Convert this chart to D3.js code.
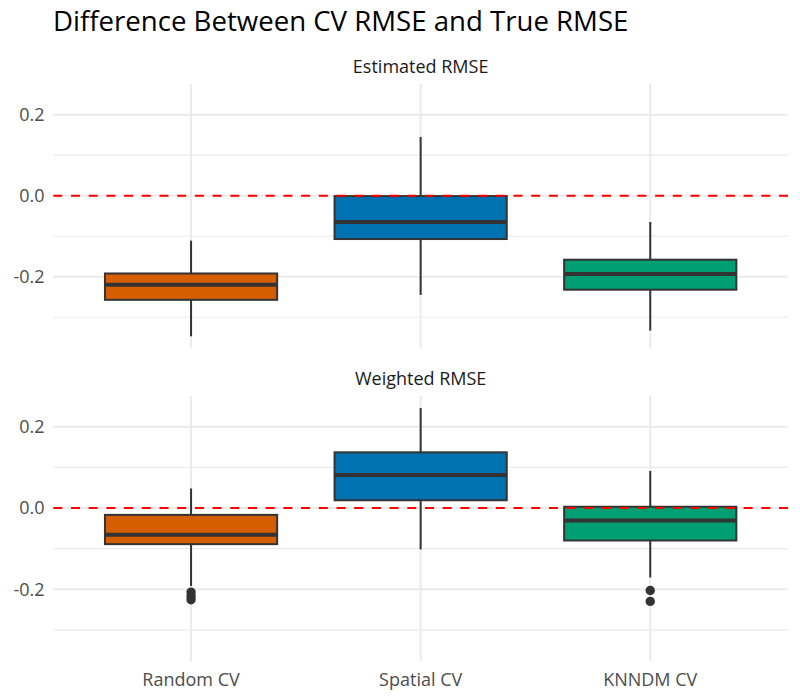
<!DOCTYPE html>
<html>
<head>
<meta charset="utf-8">
<script src="https://cdn.jsdelivr.net/npm/d3@7"></script>
<style>
  html, body { margin: 0; padding: 0; background: #fff; }
  svg { display: block; }
  text { font-family: "Open Sans", "Noto Sans", sans-serif; }
</style>
</head>
<body>
<svg id="chart" width="800" height="700"></svg>
<script>
// ---------- data ----------
const categories = ["Random CV", "Spatial CV", "KNNDM CV"];
const panels = ["Estimated RMSE", "Weighted RMSE"];
const colors = ["#D55E00", "#0072B2", "#009E73"];
const yTicks = [-0.2, 0.0, 0.2];
const yMinorTicks = [-0.3, -0.1, 0.1];

// boxplot stats per panel, ordered as categories: [lowerWhisker, q1, median, q3, upperWhisker]
const estimatedStats = [
  [-0.347, -0.257, -0.220, -0.192, -0.111],
  [-0.245, -0.107, -0.065, -0.001, 0.145],
  [-0.333, -0.232, -0.193, -0.158, -0.065]
];
const weightedStats = [
  [-0.192, -0.089, -0.066, -0.017, 0.048],
  [-0.102, 0.019, 0.081, 0.137, 0.246],
  [-0.171, -0.080, -0.031, 0.003, 0.091]
];
const estimatedOutliers = [[], [], []];
const weightedOutliers = [[-0.207, -0.217, -0.226], [], [-0.203, -0.230]];

const panelStats = [estimatedStats, weightedStats];
const panelOutliers = [estimatedOutliers, weightedOutliers];

// ---------- layout ----------
const svg = d3.select("#chart");
const left = 53.3, right = 788;
const panelBoxes = [
  { top: 84, bottom: 348.3 },
  { top: 396, bottom: 661 }
];

// y domain: data range with 5% expansion (shared across facets)
const allVals = [];
panelStats.forEach(p => p.forEach(s => allVals.push(...s)));
panelOutliers.forEach(p => p.forEach(o => allVals.push(...o)));
const [dmin, dmax] = d3.extent(allVals);
const span = dmax - dmin;
const yDomain = [dmin - 0.05 * span, dmax + 0.05 * span];

// x: discrete scale with 0.6 expansion each side
const xLin = d3.scaleLinear().domain([0.4, categories.length + 0.6]).range([left, right]);
const xPos = c => xLin(categories.indexOf(c) + 1);
const boxWidth = xLin(1.75) - xLin(1); // 0.75 units

// title
svg.append("text")
  .attr("x", 53)
  .attr("y", 31)
  .attr("font-size", 27.6)
  .attr("fill", "#000")
  .text("Difference Between CV RMSE and True RMSE");

panels.forEach((pname, pi) => {
  const pb = panelBoxes[pi];
  const y = d3.scaleLinear().domain(yDomain).range([pb.bottom, pb.top]);
  const g = svg.append("g");

  // minor grid
  g.selectAll(".minor").data(yMinorTicks).enter().append("line")
    .attr("x1", left).attr("x2", right)
    .attr("y1", d => y(d)).attr("y2", d => y(d))
    .attr("stroke", "#EBEBEB").attr("stroke-width", 1.1);
  // major grid
  g.selectAll(".major").data(yTicks).enter().append("line")
    .attr("x1", left).attr("x2", right)
    .attr("y1", d => y(d)).attr("y2", d => y(d))
    .attr("stroke", "#EBEBEB").attr("stroke-width", 2);
  g.selectAll(".vgrid").data(categories).enter().append("line")
    .attr("x1", d => xPos(d)).attr("x2", d => xPos(d))
    .attr("y1", pb.top).attr("y2", pb.bottom)
    .attr("stroke", "#EBEBEB").attr("stroke-width", 2);

  // y tick labels
  g.selectAll(".ylab").data(yTicks).enter().append("text")
    .attr("x", 44.5)
    .attr("y", d => y(d))
    .attr("dy", "0.36em")
    .attr("text-anchor", "end")
    .attr("font-size", 18)
    .attr("fill", "#4D4D4D")
    .text(d => d3.format(".1f")(d).replace("−", "-"));

  // strip label
  svg.append("text")
    .attr("x", (left + right) / 2)
    .attr("y", pb.top - 11)
    .attr("text-anchor", "middle")
    .attr("font-size", 18)
    .attr("fill", "#1A1A1A")
    .text(pname);

  // boxes
  const stats = panelStats[pi];
  const outs = panelOutliers[pi];
  categories.forEach((c, ci) => {
    const s = stats[ci];
    const cx = xPos(c);
    const bg = g.append("g");
    // whiskers
    bg.append("line")
      .attr("x1", cx).attr("x2", cx)
      .attr("y1", y(s[4])).attr("y2", y(s[3]))
      .attr("stroke", "#333333").attr("stroke-width", 2);
    bg.append("line")
      .attr("x1", cx).attr("x2", cx)
      .attr("y1", y(s[1])).attr("y2", y(s[0]))
      .attr("stroke", "#333333").attr("stroke-width", 2);
    // box
    bg.append("rect")
      .attr("x", cx - boxWidth / 2)
      .attr("width", boxWidth)
      .attr("y", y(s[3]))
      .attr("height", y(s[1]) - y(s[3]))
      .attr("fill", colors[ci])
      .attr("stroke", "#333333")
      .attr("stroke-width", 2);
    // median
    bg.append("line")
      .attr("x1", cx - boxWidth / 2).attr("x2", cx + boxWidth / 2)
      .attr("y1", y(s[2])).attr("y2", y(s[2]))
      .attr("stroke", "#333333").attr("stroke-width", 4);
    // outliers
    bg.selectAll("circle").data(outs[ci]).enter().append("circle")
      .attr("cx", cx).attr("cy", d => y(d)).attr("r", 4.7)
      .attr("fill", "#333333");
  });

  // zero reference line
  g.append("line")
    .attr("x1", left).attr("x2", right)
    .attr("y1", y(0)).attr("y2", y(0))
    .attr("stroke", "#FF0000")
    .attr("stroke-width", 2)
    .attr("stroke-dasharray", "9,8.7");
});

// x tick labels (bottom panel only)
svg.selectAll(".xlab").data(categories).enter().append("text")
  .attr("x", d => xPos(d))
  .attr("y", 686)
  .attr("text-anchor", "middle")
  .attr("font-size", 18)
  .attr("fill", "#4D4D4D")
  .text(d => d);
</script>
</body>
</html>
